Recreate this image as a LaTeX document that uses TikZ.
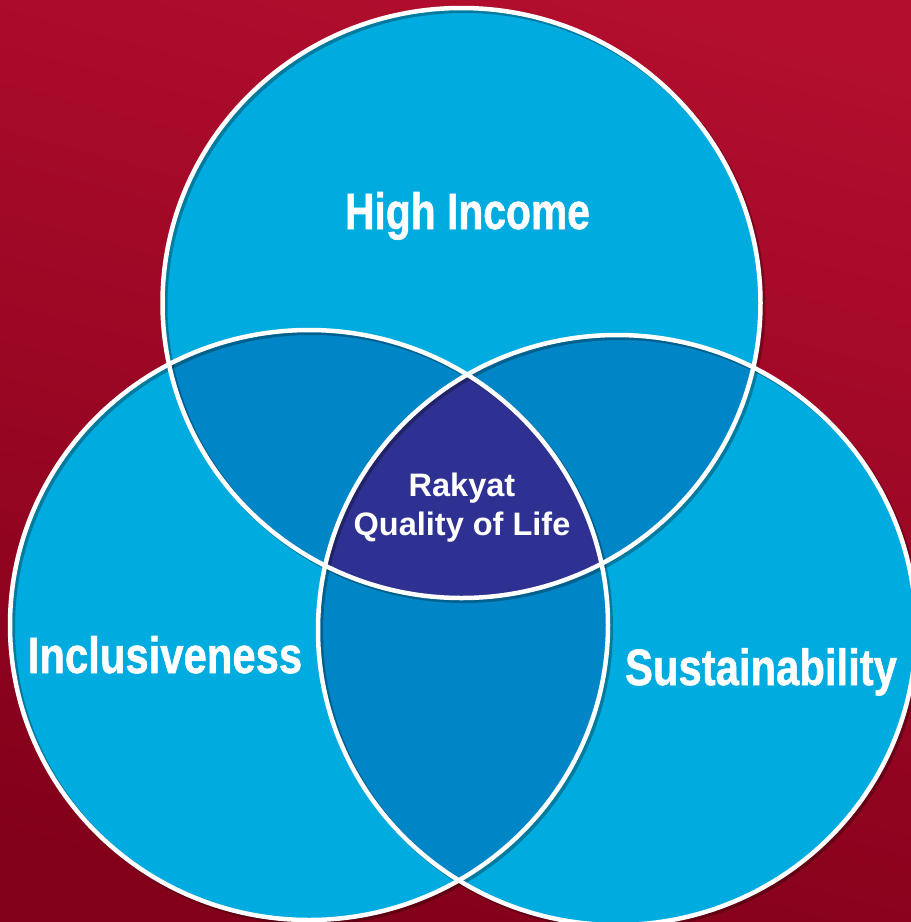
\documentclass[tikz,border=0pt]{standalone}
\usepackage{fontspec}
\usepackage{graphicx}
\setmainfont{Liberation Sans}
\newfontfamily\heavyfont[FakeBold=1.2]{Liberation Sans Bold}
\definecolor{bgtop}{HTML}{B30E2E}
\definecolor{bgbot}{HTML}{82001A}
\definecolor{lightblue}{HTML}{00ABDF}
\definecolor{midblue}{HTML}{0086C6}
\definecolor{centerpurple}{HTML}{2E3192}
\tikzset{
  ringline/.style={draw=white, line width=4.5pt},
  ringshadow/.style={draw=black, line width=5pt, opacity=0.28},
  biglabel/.style={text=white, font=\fontsize{51}{56}\heavyfont, anchor=base, inner sep=0pt},
  smalllabel/.style={text=white, font=\fontsize{32.5}{38}\selectfont\bfseries, anchor=base, inner sep=0pt}
}
\newcommand{\cond}[2]{\scalebox{#1}[1]{#2}}
\begin{document}
\begin{tikzpicture}[x=1pt,y=-1pt]
\useasboundingbox (0,0) rectangle (911,922);
\shade[top color=bgtop, bottom color=bgbot, shading angle=-15] (-40,-40) rectangle (951,962);
\coordinate (cT) at (461.5,303);
\coordinate (cL) at (309,625);
\coordinate (cR) at (617,630);
\def\rx{299}
\def\ry{295}
% fills
\foreach \c in {cT,cL,cR} \fill[lightblue] (\c) ellipse [x radius=\rx, y radius=\ry];
\begin{scope}
  \clip (cT) ellipse [x radius=\rx, y radius=\ry];
  \fill[midblue] (cL) ellipse [x radius=\rx, y radius=\ry];
  \fill[midblue] (cR) ellipse [x radius=\rx, y radius=\ry];
\end{scope}
\begin{scope}
  \clip (cL) ellipse [x radius=\rx, y radius=\ry];
  \fill[midblue] (cR) ellipse [x radius=\rx, y radius=\ry];
\end{scope}
\begin{scope}
  \clip (cT) ellipse [x radius=\rx, y radius=\ry];
  \clip (cL) ellipse [x radius=\rx, y radius=\ry];
  \fill[centerpurple] (cR) ellipse [x radius=\rx, y radius=\ry];
\end{scope}
% shadows
\foreach \c in {cT,cL,cR} \draw[ringshadow] ([shift={(2.5,2.5)}]\c) ellipse [x radius=\rx, y radius=\ry];
% white rings
\foreach \c in {cT,cL,cR} \draw[ringline] (\c) ellipse [x radius=\rx, y radius=\ry];
% labels
\node[biglabel] (hi) at (467.5,229) {\cond{0.80}{High Income}};
\node[biglabel] (inc) at (165,673) {\cond{0.82}{Inclusiveness}};
\node[biglabel] (sus) at (761,685) {\cond{0.82}{Sustainability}};
\node[smalllabel] (rak) at (462,496) {Rakyat};
\node[smalllabel] (qol) at (462,535) {Quality of Life};
\end{tikzpicture}
\end{document}
